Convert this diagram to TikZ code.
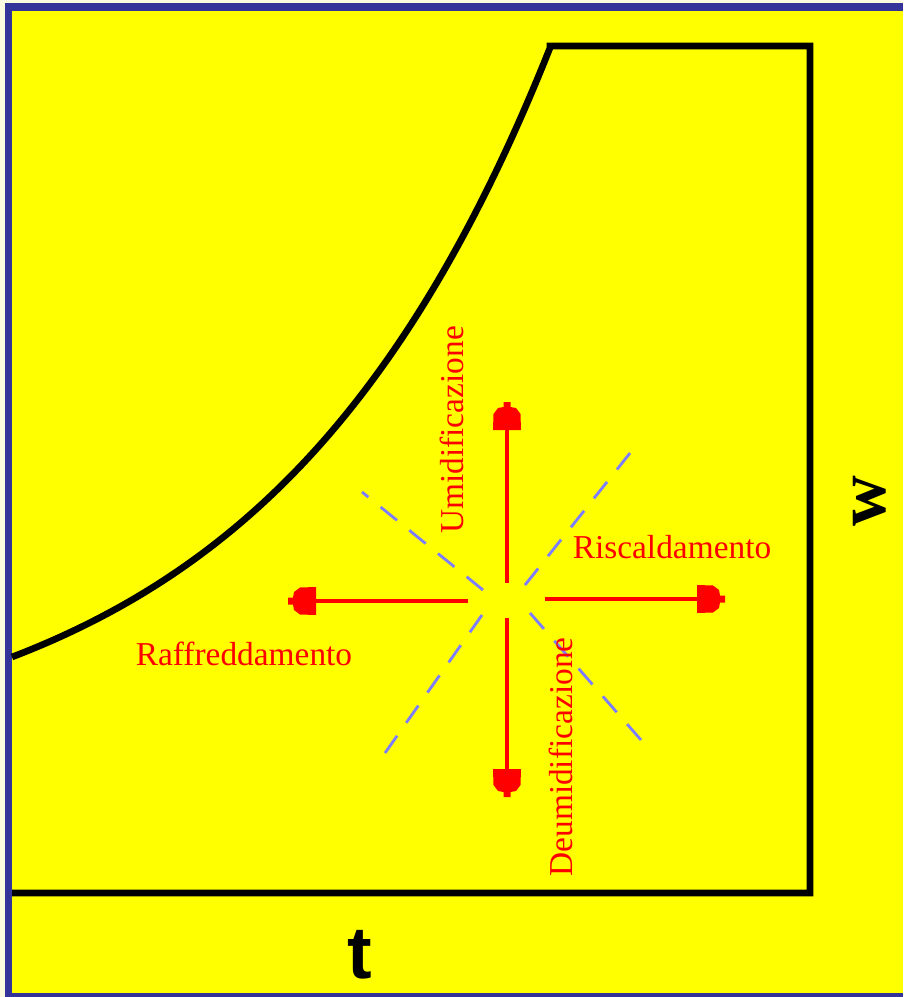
\documentclass[tikz,border=0pt]{standalone}
\usepackage{fontspec}
\setmainfont{Liberation Serif}
\newfontfamily\arialf{Liberation Sans}
\definecolor{bgyellow}{RGB}{255,255,0}
\definecolor{bordblue}{RGB}{51,51,153}
\definecolor{cream}{RGB}{250,250,225}
\definecolor{dashblue}{RGB}{125,125,255}
\definecolor{arrred}{RGB}{255,0,0}
\tikzset{
  frameline/.style={line width=3.8pt, black, line join=miter},
  redline/.style={line width=2.8pt, arrred},
  raydash/.style={line width=1.6pt, dashblue, dash pattern=on 12pt off 9pt},
  lbl/.style={inner sep=0pt, text=arrred, font=\fontsize{19}{19}\selectfont, anchor=base},
  axislbl/.style={inner sep=0pt, text=black, anchor=base},
  tiphead/.pic={
    \fill[arrred] (0,3.5) -- (-5,3.5) -- (-6,9) -- (-12,13.5) -- (-28,14) -- (-28,-14)
      -- (-12,-13.5) -- (-6,-9) -- (-5,-3.5) -- (0,-3.5) -- cycle;
  }
}
\begin{document}
\begin{tikzpicture}[x=0.02cm,y=-0.02cm]
\useasboundingbox (0,0) rectangle (903,997);
% background and border
\fill[cream] (0,0) rectangle (903,997);
\fill[bordblue] (5,3) rectangle (903,997);
\fill[bgyellow] (12,11) rectangle (903,993);
% frame with curve
\coordinate (cs) at (12,657);
\coordinate (ct) at (550,46);
\coordinate (tr) at (810,46);
\coordinate (br) at (810,893);
\coordinate (bl) at (12,893);
\draw[frameline] plot[domain=12:550, samples=80, smooth] (\x,{766.7-105.2*exp(0.0035*\x)})
  -- (ct) -- (tr) -- (br) -- (bl);
% rays
\coordinate (c) at (507,600);
\coordinate (urI) at (525,585); \coordinate (urO) at (638,443);
\coordinate (llI) at (482,615); \coordinate (llO) at (385,753);
\coordinate (ulI) at (483,590); \coordinate (ulO) at (362,492);
\coordinate (lrI) at (530,613); \coordinate (lrO) at (648,748);
\draw[raydash] (urI) -- (urO);
\draw[raydash] (llI) -- (llO);
\draw[raydash] (ulI) -- (ulO);
\draw[raydash] (lrI) -- (lrO);
% arrows
\coordinate (upS) at (507,583); \coordinate (upT) at (507,402);
\coordinate (dnS) at (507,618); \coordinate (dnT) at (507,797);
\coordinate (lfS) at (468,601); \coordinate (lfT) at (288,601);
\coordinate (rtS) at (545,599); \coordinate (rtT) at (725,599);
\draw[redline] (upS) -- (upT);
\draw[redline] (dnS) -- (dnT);
\draw[redline] (lfS) -- (lfT);
\draw[redline] (rtS) -- (rtT);
\pic[rotate=90] at (upT) {tiphead};
\pic[rotate=-90] at (dnT) {tiphead};
\pic[rotate=180] at (lfT) {tiphead};
\pic at (rtT) {tiphead};
% labels
\node[lbl] (risc) at (672,558) {Riscaldamento};
\node[lbl] (raff) at (244,665) {Raffreddamento};
\node[lbl, rotate=90] (umid) at (463,430) {Umidificazione};
\node[lbl, rotate=90] (deum) at (572,757) {Deumidificazione};
\node[axislbl, font=\arialf\bfseries\fontsize{42}{42}\selectfont] (tl) at (360,978) {t};
\node[axislbl, rotate=90, font=\bfseries\fontsize{40}{40}\selectfont] (wl) at (885,501) {w};
\end{tikzpicture}
\end{document}
